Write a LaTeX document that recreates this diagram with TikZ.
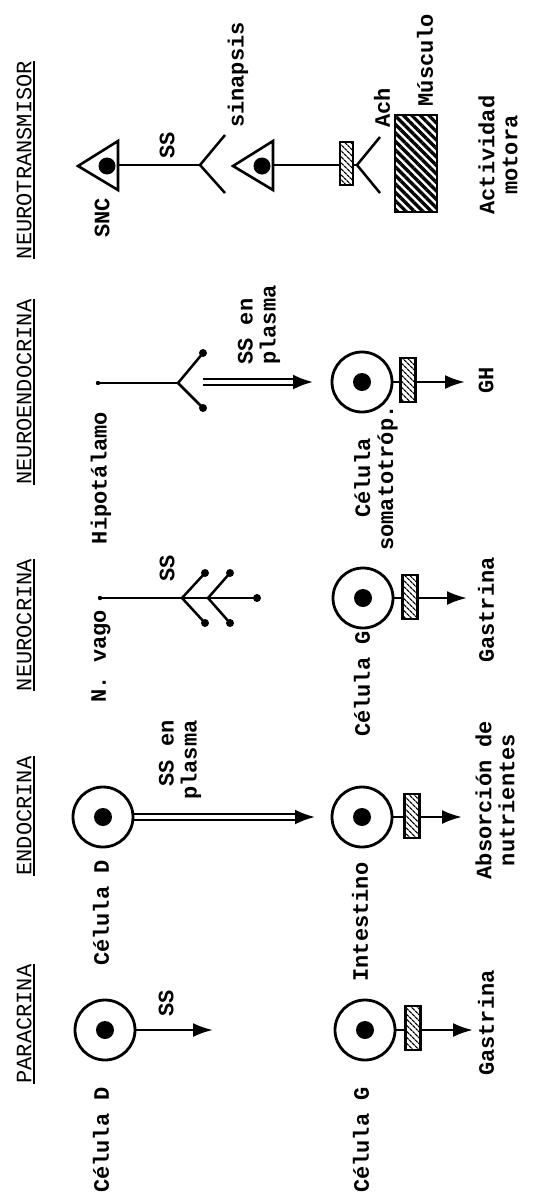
\documentclass[tikz,border=0pt]{standalone}
\usepackage{fontspec}
\newfontfamily\bodyfont{Liberation Mono}
\usetikzlibrary{arrows.meta,calc,patterns.meta}
\begin{document}
\begin{tikzpicture}[x=1pt,y=-1pt,
  lbl/.style={rotate=90, font=\bodyfont\bfseries\fontsize{22}{23}\selectfont, inner sep=0pt},
  hdr/.style={rotate=90, font=\bodyfont\fontsize{22}{23}\selectfont, inner sep=0pt},
  ul/.style={line width=1.4pt},
  cell/.style={circle, draw, line width=2.8pt, minimum size=60pt, inner sep=0pt},
  conn/.style={line width=2.5pt},
  arr/.style={line width=2.5pt, -{Latex[length=20pt,width=14pt]}},
  tipx/.style={line width=2.5pt, -{Latex[length=20pt,width=15pt]}},
  rec/.style={draw, line width=2.5pt, minimum width=15pt, minimum height=44pt, inner sep=0pt,
    preaction={fill=white}, pattern={Lines[angle=-45,distance=4pt,line width=1.3pt]}},
  tri/.style={line width=2.6pt},
  musc/.style={draw, line width=2.8pt, minimum width=42pt, minimum height=97pt, inner sep=0pt,
    pattern={Lines[angle=-45,distance=6pt,line width=3.3pt]}}
]
\useasboundingbox (0,0) rectangle (546,1197);

% ---------------- Headers ----------------
\node[hdr] (h1) at (24,1024) {PARACRINA};
\node[hdr] (h2) at (24,816) {ENDOCRINA};
\node[hdr] (h3) at (24,625) {NEUROCRINA};
\node[hdr] (h4) at (24,392) {NEUROENDOCRINA};
\node[hdr] (h5) at (24,160) {NEUROTRANSMISOR};
\foreach \h in {h1,h2,h3,h4,h5}
  \draw[ul] ([xshift=2.5pt]\h.south west) -- ([xshift=2.5pt]\h.south east);

% ---------------- PARACRINA ----------------
\node[cell] (pD) at (105,1030) {};
\fill (pD.center) circle (9pt);
\node[lbl] (pDl) at (101,1140) {Célula D};
\coordinate (pSS) at (213,1030);
\draw[arr] (pD.east) -- (pSS);
\node[lbl] (pSSl) at (166,1003) {SS};
\node[cell] (pG) at (365,1030) {};
\fill (pG.center) circle (9pt);
\node[lbl] (pGl) at (361,1140) {Célula G};
\coordinate (pGt) at (473,1030);
\draw[arr] (pG.east) -- (pGt);
\node[rec] (pR) at (413,1028) {};
\node[lbl] (pGa) at (486,1023) {Gastrina};

% ---------------- ENDOCRINA ----------------
\node[cell] (eD) at (103,817) {};
\fill (eD.center) circle (9pt);
\node[lbl] (eDl) at (101,913) {Célula D};
\coordinate (eT) at (315,817);
\draw[conn,line width=1.8pt] ($(eD.east)+(0,-2.7)$) -- ($(eT)+(-16,-2.7)$);
\draw[conn,line width=1.8pt] ($(eD.east)+(0,2.7)$) -- ($(eT)+(-16,2.7)$);
\draw[tipx] ($(eT)+(-19,0)$) -- (eT);
\node[lbl, align=right] (eSS) at (180,760) {SS en\\plasma};
\node[cell] (eI) at (362,817) {};
\fill (eI.center) circle (9pt);
\node[lbl] (eIl) at (360,922) {Intestino};
\coordinate (eIt) at (462,817);
\draw[arr] (eI.east) -- (eIt);
\node[rec] (eR) at (412,816) {};
\node[lbl, align=center] (eAb) at (495,800) {Absorción de\\nutrientes};

% ---------------- NEUROCRINA ----------------
\node[lbl] (nV) at (101,656) {N. vago};
\coordinate (n0) at (100,598);
\coordinate (n1) at (257,598);
\coordinate (nb1) at (182,598);
\coordinate (nb2) at (208,598);
\coordinate (na1) at (205,573);
\coordinate (na2) at (205,623);
\coordinate (na3) at (230,573);
\coordinate (na4) at (230,623);
\draw[conn] (n0) -- (n1);
\draw[conn] (na1) -- (nb1) -- (na2);
\draw[conn] (na3) -- (nb2) -- (na4);
\foreach \p in {n1,na1,na2,na3,na4} \fill (\p) circle (4pt);
\fill (n0) circle (2.2pt);
\node[lbl] (nSS) at (167,568) {SS};
\node[cell] (nG) at (363,598) {};
\fill (nG.center) circle (9pt);
\node[lbl] (nGl) at (362,684) {Célula G};
\coordinate (nGt) at (467,598);
\draw[arr] (nG.east) -- (nGt);
\node[rec] (nR) at (410,597) {};
\node[lbl] (nGa) at (486,610) {Gastrina};

% ---------------- NEUROENDOCRINA ----------------
\node[lbl] (neH) at (101,478) {Hipotálamo};
\coordinate (ne0) at (98,383);
\coordinate (neb) at (178,383);
\coordinate (nea1) at (203,353);
\coordinate (nea2) at (203,408);
\draw[conn] (ne0) -- (neb);
\draw[conn] (nea1) -- (neb) -- (nea2);
\foreach \p in {nea1,nea2} \fill (\p) circle (4pt);
\fill (ne0) circle (2.2pt);
\coordinate (neS) at (203,382);
\coordinate (neT) at (313,382);
\draw[conn,line width=1.8pt] ($(neS)+(0,-2.7)$) -- ($(neT)+(-16,-2.7)$);
\draw[conn,line width=1.8pt] ($(neS)+(0,2.7)$) -- ($(neT)+(-16,2.7)$);
\draw[tipx] ($(neT)+(-19,0)$) -- (neT);
\node[lbl, align=left] (neSS) at (259,325) {SS en\\plasma};
\node[cell] (neC) at (362,382) {};
\fill (neC.center) circle (9pt);
\node[lbl, align=center] (neCl) at (376,478) {Célula\\somatotróp.};
\coordinate (neCt) at (465,382);
\draw[arr] (neC.east) -- (neCt);
\node[rec] (neR) at (408,380) {};
\node[lbl] (neGH) at (486,380) {GH};

% ---------------- NEUROTRANSMISOR ----------------
\draw[tri] (78,166) -- (118,141) -- (118,190) -- cycle;
\coordinate (t1) at (118,165);
\fill (107,166) circle (8.5pt);
\coordinate (tb1) at (200,165);
\coordinate (ta1) at (225,135);
\coordinate (ta2) at (225,193);
\draw[conn] (t1) -- (tb1);
\draw[conn] (ta1) -- (tb1) -- (ta2);
\node[lbl] (tSS) at (167,145) {SS};
\node[lbl] (tSNC) at (102,218) {SNC};
\node[lbl] (tsin) at (238,75) {sinapsis};
\draw[tri] (233,166) -- (273,141) -- (273,190) -- cycle;
\coordinate (t2) at (273,165);
\fill (262,166) circle (8.5pt);
\coordinate (tb2) at (357,165);
\coordinate (ta3) at (380,137);
\coordinate (ta4) at (380,193);
\draw[conn] (t2) -- (tb2);
\draw[conn] (ta3) -- (tb2) -- (ta4);
\node[rec, minimum width=13pt, minimum height=43pt] (tR) at (346.5,163.5) {};
\node[lbl] (tAch) at (382,108) {Ach};
\node[musc] (mus) at (416,163.5) {};
\node[lbl] (tMus) at (425,60) {Músculo};
\node[lbl, align=center] (tAct) at (498,155) {Actividad\\motora};
\end{tikzpicture}
\end{document}
